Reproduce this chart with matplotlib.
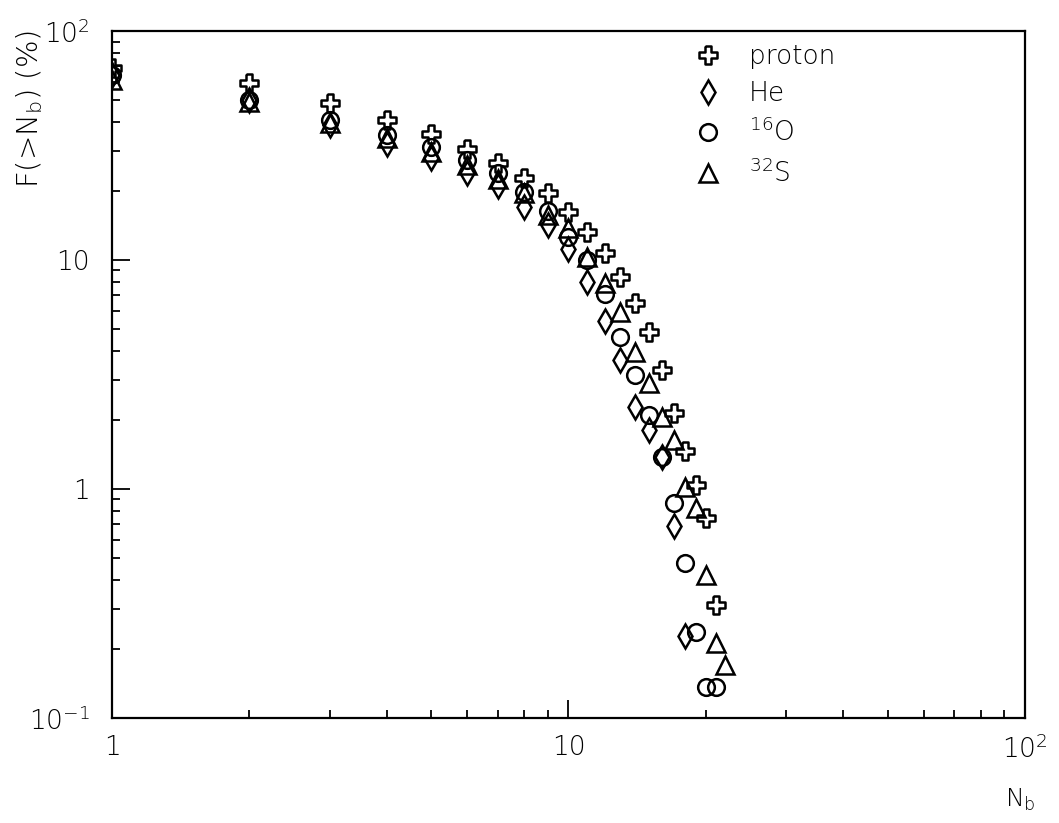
import matplotlib
matplotlib.use("Agg")
import matplotlib.pyplot as plt
from matplotlib.ticker import FixedLocator, LogLocator, NullFormatter

plt.rcParams['font.family'] = ['DejaVu Sans']
plt.rcParams['font.weight'] = 'light'
plt.rcParams['mathtext.default'] = 'regular'

# data: F(>Nb) in percent
proton_nb = list(range(1, 22))
proton = [69, 59, 48.5, 41, 35.5, 30.5, 26.5, 22.7, 19.6, 16.2, 13.3, 10.7,
          8.4, 6.5, 4.85, 3.3, 2.15, 1.46, 1.04, 0.75, 0.31]

he_nb = list(range(1, 19))
he = [64, 50, 39, 32, 28, 24, 21, 17.1, 14.2, 11.2, 8.0, 5.4, 3.65, 2.28,
      1.81, 1.38, 0.69, 0.228]

o_nb = list(range(1, 22))
o16 = [64, 50, 41, 35, 31.3, 27.3, 24, 19.8, 16.3, 12.6, 10, 7.1, 4.6, 3.15,
       2.1, 1.38, 0.87, 0.475, 0.237, 0.137, 0.137]

s_nb = list(range(1, 23))
s32 = [61, 49, 39.5, 34, 29.5, 26, 22.5, 19.6, 15.7, 13.8, 10.3, 7.9, 5.9,
       3.95, 2.9, 2.06, 1.64, 1.02, 0.83, 0.42, 0.212, 0.17]

labels = ['proton', 'He', '$^{16}$O', '$^{32}$S']

# open (outlined) plus marker
a = 0.36
plus_open = [(-a, 1), (a, 1), (a, a), (1, a), (1, -a), (a, -a), (a, -1),
             (-a, -1), (-a, -a), (-1, -a), (-1, a), (-a, a), (-a, 1)]

fig = plt.figure(figsize=(10.59, 8.23), dpi=100)
ax = fig.add_axes([0.1058, 0.1276, 0.862, 0.8347])

style = dict(linestyle='none', mfc='none', mec='black', mew=1.8)
ax.plot(proton_nb, proton, marker=plus_open, ms=12.5, label=labels[0], **style)
ax.plot(he_nb, he, marker='d', ms=12, label=labels[1], **style)
ax.plot(o_nb, o16, marker='o', ms=12, label=labels[2], **style)
ax.plot(s_nb, s32, marker='^', ms=12.5, label=labels[3], **style)

ax.set_xscale('log')
ax.set_yscale('log')
ax.set_xlim(1, 100)
ax.set_ylim(0.1, 100)

ax.xaxis.set_major_locator(FixedLocator([1, 10, 100]))
ax.set_xticklabels(['1', '10', '$10^{2}$'])
ax.yaxis.set_major_locator(FixedLocator([0.1, 1, 10, 100]))
ax.set_yticklabels(['$10^{-1}$', '1', '10', '$10^{2}$'])
ax.xaxis.set_minor_locator(LogLocator(base=10, subs=range(2, 10)))
ax.yaxis.set_minor_locator(LogLocator(base=10, subs=range(2, 10)))
ax.xaxis.set_minor_formatter(NullFormatter())
ax.yaxis.set_minor_formatter(NullFormatter())

ax.tick_params(which='both', direction='in', top=False, right=False,
               labelsize=19, width=1.3)
ax.tick_params(which='major', length=13)
ax.tick_params(axis='y', which='major', pad=16)
ax.tick_params(axis='x', which='major', pad=12)
ax.tick_params(which='minor', length=6)
for sp in ax.spines.values():
    sp.set_linewidth(1.6)

# axis titles placed like the original (y title at top, x title bottom right)
fig.text(30 / 1059, 1 - 30 / 823, 'F(>N$_{b}$) (%)', fontsize=21,
         rotation=90, ha='center', va='top')
fig.text(1020 / 1059, 1 - 800 / 823, 'N$_{b}$', fontsize=18,
         ha='center', va='center')

ax.legend(loc='upper left', frameon=False, fontsize=19,
          bbox_to_anchor=(0.621, 1.004), handlelength=1.0, handletextpad=1.05,
          labelspacing=0.45, borderaxespad=0.2)

fig.savefig('out.png', dpi=100)
